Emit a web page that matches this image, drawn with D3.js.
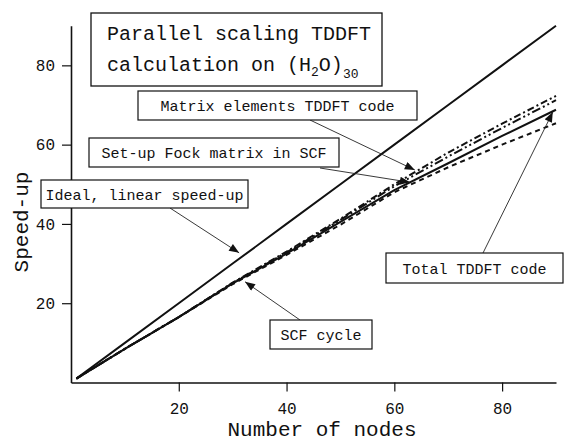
<!DOCTYPE html>
<html lang="en">
<head>
    <meta charset="UTF-8">
    <script src="https://cdnjs.cloudflare.com/ajax/libs/d3/7.8.5/d3.min.js"></script>
    <title>Parallel scaling TDDFT</title>
    <style>
        body { margin: 0; background: #fff; }
        text { font-family: "Liberation Mono", "DejaVu Sans Mono", monospace; fill: #111; }
    </style>
</head>
<body>
    <div id="graph"></div>

    <script>
    // data
    let nodes  = [1, 10, 20, 30, 40, 50, 60, 70, 80, 90];
    let ideal  = [1, 10, 20, 30, 40, 50, 60, 70, 80, 90];
    let matrix = [1, 8.5, 16.5, 25.2, 33, 41.3, 50, 58, 65.3, 72.3];
    let fock   = [1, 8.5, 16.5, 25.1, 32.8, 41, 49.5, 57, 64.2, 71.2];
    let total  = [1, 8.5, 16.5, 25, 32.5, 40.5, 48.5, 55.3, 62.2, 68.8];
    let scf    = [1, 8.5, 16.5, 24.8, 32.2, 39.8, 48, 54.3, 60, 65.4];

    let xTicks = [20, 40, 60, 80];
    let yTicks = [20, 40, 60, 80];

    // settings
    let width = 564;
    let height = 443;

    let x = d3.scaleLinear().domain([0, 90]).range([71, 556]);
    let y = d3.scaleLinear().domain([0, 90]).range([382.5, 25.7]);

    let svg = d3.select("#graph")
        .append("svg")
        .attr("width", width)
        .attr("height", height);

    // arrow head for the labels
    svg.append("defs").append("marker")
        .attr("id", "head")
        .attr("markerUnits", "userSpaceOnUse")
        .attr("viewBox", "0 0 10 8")
        .attr("refX", 10)
        .attr("refY", 4)
        .attr("markerWidth", 11)
        .attr("markerHeight", 8)
        .attr("orient", "auto")
        .append("path")
        .attr("d", "M0,0 L10,4 L0,8 Z")
        .attr("fill", "#111");

    // axes
    svg.append("g")
        .attr("transform", "translate(0," + y(0) + ")")
        .call(d3.axisBottom(x).tickValues(xTicks).tickSize(9).tickSizeOuter(0).tickPadding(11));

    svg.append("g")
        .attr("transform", "translate(" + x(0) + ",0)")
        .call(d3.axisLeft(y).tickValues(yTicks).tickSize(9).tickSizeOuter(0).tickPadding(7));

    svg.selectAll(".domain").attr("stroke", "#111").attr("stroke-width", 1.6);
    svg.selectAll(".tick line").attr("stroke", "#111").attr("stroke-width", 1.2);
    svg.selectAll(".tick text")
        .attr("font-family", "Liberation Mono")
        .attr("font-size", "16px")
        .attr("fill", "#222");

    // axis titles
    svg.append("text")
        .attr("x", 322)
        .attr("y", 436)
        .attr("text-anchor", "middle")
        .attr("font-size", "21px")
        .text("Number of nodes");

    svg.append("text")
        .attr("transform", "translate(28,222) rotate(-90)")
        .attr("text-anchor", "middle")
        .attr("font-size", "21px")
        .text("Speed-up");

    // the curves
    let series = [
        { values: ideal,  dash: null },
        { values: matrix, dash: "7,3,2,3" },
        { values: fock,   dash: "9,3,2,3,2,3" },
        { values: total,  dash: null },
        { values: scf,    dash: "5,4" }
    ];

    let line = d3.line()
        .x(function(d) { return x(d[0]); })
        .y(function(d) { return y(d[1]); });

    svg.selectAll("path.curve")
        .data(series)
        .enter()
        .append("path")
        .attr("class", "curve")
        .attr("d", function(s) {
            return line(nodes.map(function(n, i) { return [n, s.values[i]]; }));
        })
        .attr("fill", "none")
        .attr("stroke", "#111")
        .attr("stroke-width", 2)
        .attr("stroke-dasharray", function(s) { return s.dash; });

    // title box
    svg.append("rect")
        .attr("x", 91).attr("y", 13)
        .attr("width", 291).attr("height", 73)
        .attr("fill", "#fff")
        .attr("stroke", "#111")
        .attr("stroke-width", 1.3);

    svg.append("text")
        .attr("x", 107).attr("y", 40)
        .attr("font-size", "20px")
        .text("Parallel scaling TDDFT");

    let t2 = svg.append("text")
        .attr("x", 107).attr("y", 71)
        .attr("font-size", "20px");
    t2.append("tspan").text("calculation on (H");
    t2.append("tspan").attr("font-size", "13px").attr("dy", 5).text("2");
    t2.append("tspan").attr("dy", -5).text("O)");
    t2.append("tspan").attr("font-size", "13px").attr("dy", 7).text("30");

    // labels with arrows, tip given in data units
    let labels = [
        { text: "Matrix elements TDDFT code", box: [138, 91, 279, 29],  from: [310, 120], to: [63.8, 53.6] },
        { text: "Set-up Fock matrix in SCF",  box: [89, 138, 250, 29],  from: [320, 168], to: [62.9, 50.5] },
        { text: "Ideal, linear speed-up",     box: [41, 180, 207, 28],  from: [170, 208], to: [31.2, 32.7] },
        { text: "Total TDDFT code",           box: [386, 253, 177, 30], from: [483, 253], to: [89.4, 68.2] },
        { text: "SCF cycle",                  box: [270, 320, 102, 29], from: [300, 320], to: [32.3, 25.4] }
    ];

    svg.selectAll("line.pointer")
        .data(labels)
        .enter()
        .append("line")
        .attr("class", "pointer")
        .attr("x1", function(d) { return d.from[0]; })
        .attr("y1", function(d) { return d.from[1]; })
        .attr("x2", function(d) { return x(d.to[0]); })
        .attr("y2", function(d) { return y(d.to[1]); })
        .attr("stroke", "#222")
        .attr("stroke-width", 0.9)
        .attr("marker-end", "url(#head)");

    svg.selectAll("rect.label")
        .data(labels)
        .enter()
        .append("rect")
        .attr("class", "label")
        .attr("x", function(d) { return d.box[0]; })
        .attr("y", function(d) { return d.box[1]; })
        .attr("width", function(d) { return d.box[2]; })
        .attr("height", function(d) { return d.box[3]; })
        .attr("fill", "#fff")
        .attr("stroke", "#111")
        .attr("stroke-width", 1.2);

    svg.selectAll("text.label")
        .data(labels)
        .enter()
        .append("text")
        .attr("class", "label")
        .attr("x", function(d) { return d.box[0] + d.box[2] / 2; })
        .attr("y", function(d) { return d.box[1] + d.box[3] / 2 + 5.5; })
        .attr("text-anchor", "middle")
        .attr("font-size", "15px")
        .text(function(d) { return d.text; });
    </script>
</body>
</html>
